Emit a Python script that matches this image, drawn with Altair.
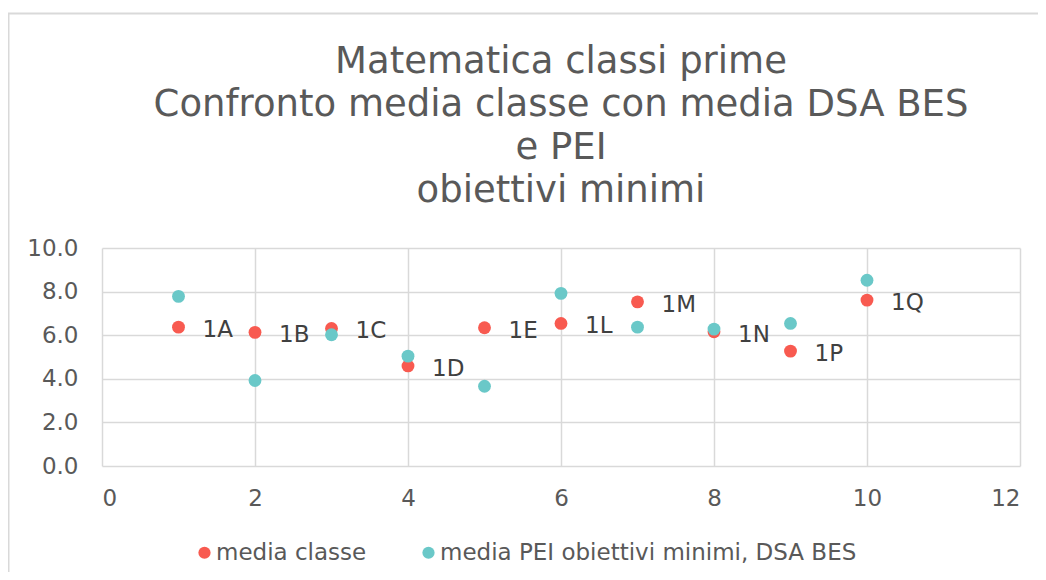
import altair as alt
import pandas as pd

classes = ["1A", "1B", "1C", "1D", "1E", "1L", "1M", "1N", "1P", "1Q"]
x_pos = [1, 2, 3, 4, 5, 6, 7, 8, 9, 10]
media_classe = [6.37, 6.13, 6.31, 4.59, 6.34, 6.54, 7.53, 6.16, 5.27, 7.61]
media_pei = [7.78, 3.92, 6.02, 5.04, 3.66, 7.92, 6.37, 6.28, 6.54, 8.52]
series_names = ["media classe", "media PEI obiettivi minimi, DSA BES"]
colors = ["#F85A50", "#6AC8C8"]
x_ticks = [0, 2, 4, 6, 8, 10, 12]
y_ticks = [0, 2, 4, 6, 8, 10]

rows = []
for c, x, v in zip(classes, x_pos, media_classe):
    rows.append({"classe": c, "x": x, "y": v, "serie": series_names[0]})
for c, x, v in zip(classes, x_pos, media_pei):
    rows.append({"classe": c, "x": x, "y": v, "serie": series_names[1]})
df = pd.DataFrame(rows)
df_lab = df[df["serie"] == series_names[0]]

FONT = "DejaVu Sans"

xs = alt.X("x:Q", scale=alt.Scale(domain=[0, 12], nice=False),
           axis=alt.Axis(values=x_ticks, format="d", title=None, labelPadding=21))
ys = alt.Y("y:Q", scale=alt.Scale(domain=[0, 10], nice=False),
           axis=alt.Axis(values=y_ticks, format=".1f", title=None, labelPadding=24))

points = alt.Chart(df).mark_circle(size=165, opacity=1).encode(
    x=xs, y=ys,
    color=alt.Color("serie:N", scale=alt.Scale(domain=series_names, range=colors),
                    sort=series_names,
                    legend=alt.Legend(title=None, orient="none", direction="horizontal",
                                      legendX=91, legendY=293, columnPadding=50,
                                      symbolType="circle", symbolSize=150,
                                      labelFontSize=23, labelFont=FONT, labelLimit=0,
                                      labelColor="#595959", symbolOffset=0,
                                      labelOffset=0)),
)

labels = alt.Chart(df_lab).mark_text(align="left", baseline="middle", dx=24, dy=3,
                                     fontSize=23, font=FONT, color="#404040").encode(
    x=xs, y=ys, text="classe:N"
)

# light outer frame of the chart area (decoration)
frame_left = alt.Chart().mark_rule(color="#D9D9D9", strokeWidth=2).encode(
    x=alt.value(-93.5), y=alt.value(-234.5), y2=alt.value(340))
frame_top = alt.Chart().mark_rule(color="#D9D9D9", strokeWidth=2).encode(
    x=alt.value(-94.5), x2=alt.value(950), y=alt.value(-234.5))

chart = alt.layer(frame_left, frame_top, points, labels).properties(
    width=918, height=218,
    title=alt.Title(["Matematica classi prime", "Confronto media classe con media DSA BES",
                     "e PEI", "obiettivi minimi"],
                    fontSize=37, font=FONT, fontWeight="normal", color="#595959",
                    lineHeight=43, anchor="middle", frame="group", offset=-197),
    autosize=alt.AutoSizeParams(type="none"),
    padding={"left": 94, "top": 240, "right": 18, "bottom": 106},
).configure_view(stroke=None).configure_axis(
    domain=False, ticks=False, gridColor="#D9D9D9", gridWidth=1.5,
    labelFont=FONT, labelFontSize=23, labelColor="#595959",
)

chart.save("out.html", embed_options={"renderer": "svg", "actions": False})
